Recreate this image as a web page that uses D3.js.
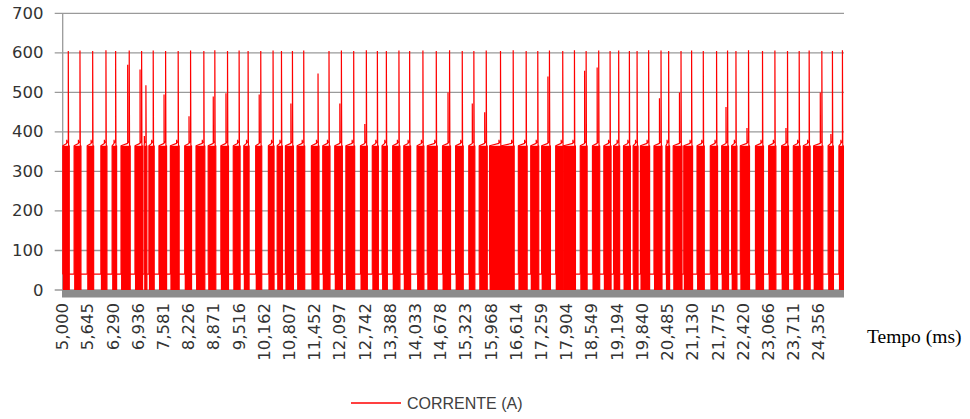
<!DOCTYPE html>
<html>
<head>
<meta charset="utf-8">
<script src="https://cdn.jsdelivr.net/npm/d3@7"></script>
<style>
  html, body { margin: 0; padding: 0; background: #fff; }
  svg { display: block; }
</style>
</head>
<body>
<svg id="chart" width="970" height="419"></svg>
<script>
// ---------------- DATA ----------------
const xTickLabels = ["5,000","5,645","6,290","6,936","7,581","8,226","8,871","9,516","10,162","10,807",
  "11,452","12,097","12,742","13,388","14,033","14,678","15,323","15,968","16,614","17,259",
  "17,904","18,549","19,194","19,840","20,485","21,130","21,775","22,420","23,066","23,711","24,356"];
const yTicks = [0, 100, 200, 300, 400, 500, 600, 700];
const timeDomain = [5000, 25000];          // ms

// time (ms) of each current spike
const spikeTimes = [5143,5442,5767,6107,6355,6703,7020,7130,7317,7634,
  7956,8273,8613,8894,9219,9516,9746,10070,10385,10600,
  10881,11170,11536,11817,12134,12449,12773,13055,13285,13607,
  13881,14221,14563,14903,15228,15525,15842,16207,16532,16864,
  17161,17460,17800,18100,18399,18721,19012,19232,19506,19703,
  19999,20316,20511,20828,21099,21398,21738,22019,22234,22556,
  22914,23231,23554,23853,24108,24433,24704,24960];
// spike peak current (A)
const spikePeaks = [605,606,605,607,605,606,605,518,606,605,
  605,606,605,607,605,606,605,605,606,605,
  605,606,548,605,606,605,607,605,605,606,
  605,606,605,607,605,605,606,605,607,605,
  605,606,605,607,605,606,605,606,605,605,
  607,606,605,605,606,605,605,606,605,607,
  605,606,605,605,606,605,605,607];
// pre-spike step current (A)
const shoulderValues = [380,380,380,380,380,570,558,390,380,495,
  380,440,380,490,498,380,380,495,380,380,
  472,380,380,380,472,380,420,380,380,380,
  380,380,380,500,380,472,450,380,380,380,
  380,540,380,380,555,563,380,380,380,380,
  380,485,380,500,380,380,380,463,380,410,
  380,380,410,380,380,500,395,380];
// duration (ms) of the high-current burst ending at each spike
const burstDurations = [140,150,140,130,90,210,170,45,110,170,
  200,150,200,170,170,150,110,130,120,110,
  180,170,170,160,170,200,150,130,110,160,
  150,150,230,180,170,130,180,280,320,200,
  180,200,180,300,150,160,160,130,150,100,
  210,180,70,200,200,160,160,150,110,210,
  180,160,150,150,150,210,110,90];
const plateauLevel = 365;   // A, during bursts
const baseLevel = 40;       // A, between bursts

// ---------------- CHART ----------------
const svg = d3.select("#chart");
const plot = { left: 62.7, right: 844, top: 13.4, bottom: 290 };

const x = d3.scaleLinear().domain(timeDomain).range([plot.left, plot.right]);
const y = d3.scaleLinear().domain([0, 700]).range([plot.bottom, plot.top]);

// gridlines + outside tick marks
svg.append("g").selectAll("line").data(yTicks).join("line")
  .attr("x1", plot.left - 8).attr("x2", plot.right)
  .attr("y1", d => y(d)).attr("y2", d => y(d))
  .attr("stroke", "#9a9a9a").attr("stroke-width", 1.3);

// left axis
svg.append("line")
  .attr("x1", plot.left).attr("x2", plot.left)
  .attr("y1", y(700)).attr("y2", plot.bottom + 7)
  .attr("stroke", "#9a9a9a").attr("stroke-width", 1.3);

// y labels
svg.append("g").selectAll("text").data(yTicks).join("text")
  .attr("x", 43.5).attr("y", d => y(d))
  .attr("text-anchor", "end").attr("dominant-baseline", "central")
  .attr("font-family", "DejaVu Sans, Verdana, sans-serif")
  .attr("font-size", "16.5px").attr("fill", "#333")
  .text(d => d);

// build bursts
const bursts = [];
let prevEnd = timeDomain[0];
spikeTimes.forEach((t, i) => {
  const start = Math.max(prevEnd, t - burstDurations[i]);
  const end = Math.min(timeDomain[1], t + 25);
  bursts.push({ start, end, spike: t, peak: spikePeaks[i], shoulder: shoulderValues[i] });
  prevEnd = end;
});

// solid fill for rapidly switching bursts
const area = d3.area().x(d => x(d.t)).y0(y(0)).y1(d => y(d.v));
svg.append("g").selectAll("path").data(bursts).join("path")
  .attr("d", b => area([{ t: b.start, v: plateauLevel }, { t: b.end, v: plateauLevel }]))
  .attr("fill", "#ff0000");

// current trace
const pts = [{ t: timeDomain[0], v: baseLevel }];
bursts.forEach(b => {
  pts.push({ t: b.start, v: baseLevel });
  pts.push({ t: b.start, v: plateauLevel });
  pts.push({ t: b.spike - 40, v: plateauLevel + 6 });
  pts.push({ t: b.spike - 40, v: b.shoulder });
  pts.push({ t: b.spike - 35, v: plateauLevel + 8 });
  pts.push({ t: b.spike, v: plateauLevel + 10 });
  pts.push({ t: b.spike, v: b.peak });
  pts.push({ t: b.spike + 8, v: plateauLevel });
  pts.push({ t: b.end, v: plateauLevel });
  pts.push({ t: b.end, v: 0 });
  pts.push({ t: b.end, v: baseLevel });
});
const line = d3.line().x(d => x(d.t)).y(d => y(d.v));
svg.append("path").attr("d", line(pts))
  .attr("fill", "none").attr("stroke", "#ff0000").attr("stroke-width", 1.2)
  .attr("stroke-linejoin", "bevel");

// gray base band
svg.append("rect")
  .attr("x", plot.left - 0.7).attr("y", plot.bottom)
  .attr("width", plot.right - plot.left + 0.7).attr("height", 7.5)
  .attr("fill", "#8c8c8c");

// x tick labels (rotated)
const tickVals = xTickLabels.map(s => +s.replace(/,/g, ""));
svg.append("g").selectAll("text").data(xTickLabels).join("text")
  .attr("transform", (d, i) => `translate(${x(tickVals[i])},303) rotate(-90)`)
  .attr("text-anchor", "end").attr("dominant-baseline", "central")
  .attr("font-family", "DejaVu Sans, Verdana, sans-serif")
  .attr("font-size", "16.5px").attr("fill", "#333")
  .text(d => d);

// x axis title
svg.append("text")
  .attr("x", 867).attr("y", 343)
  .attr("font-family", "Liberation Serif, Times New Roman, serif")
  .attr("font-size", "19.5px").attr("fill", "#000")
  .text("Tempo (ms)");

// legend
svg.append("line")
  .attr("x1", 351).attr("x2", 401).attr("y1", 403).attr("y2", 403)
  .attr("stroke", "#ff0000").attr("stroke-width", 1.6);
svg.append("text")
  .attr("x", 407).attr("y", 403)
  .attr("dominant-baseline", "central")
  .attr("font-family", "Liberation Sans, Arial, sans-serif")
  .attr("font-size", "16px").attr("fill", "#404040")
  .text("CORRENTE (A)");
</script>
</body>
</html>
